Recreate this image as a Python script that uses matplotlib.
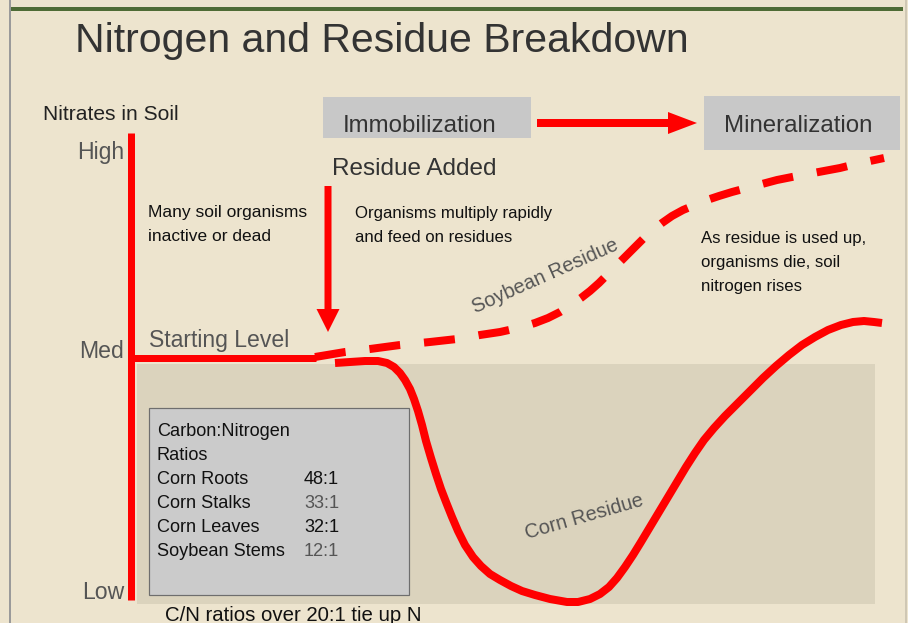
import matplotlib
matplotlib.use("Agg")
import matplotlib.pyplot as plt
from matplotlib.patches import Rectangle
from matplotlib import font_manager

# ---------------- data ----------------
title = "Nitrogen and Residue Breakdown"
axis_title = "Nitrates in Soil"
level_labels = ["High", "Med", "Low"]
level_y = [159, 358, 599]          # baselines of the level labels

ratio_header = ["Carbon:Nitrogen", "Ratios"]
ratio_items = ["Corn Roots", "Corn Stalks", "Corn Leaves", "Soybean Stems"]
ratio_values = ["48:1", "33:1", "32:1", "12:1"]
ratio_value_colors = ["#111111", "#555555", "#111111", "#555555"]
ratio_note = "C/N ratios over 20:1 tie up N"

phase_labels = ["Immobilization", "Mineralization"]
note_left = ["Many soil organisms", "inactive or dead"]
note_mid = ["Organisms multiply rapidly", "and feed on residues"]
note_right = ["As residue is used up,", "organisms die, soil", "nitrogen rises"]

# Soybean residue (dashed) curve
soy_x = [315, 345, 370, 400, 430, 457, 480, 500, 518, 535, 548, 560, 571, 581,
         590, 599, 608, 617, 626, 635, 644, 653, 662, 672, 683, 695, 707, 719,
         732, 747, 762, 777, 792, 808, 824, 840, 856, 870, 884]
soy_y = [357, 352, 349, 345, 342, 339, 335, 332, 328, 323, 318, 312, 305, 298,
         291, 283, 274, 265, 256, 247, 238, 230, 223, 216, 210, 205, 200, 196,
         192, 188, 184, 180, 177, 174, 171, 168, 164, 161, 158]

# Corn residue (solid) curve
corn_x = [335, 350, 365, 378, 387, 394, 400, 405, 410, 414, 418, 422, 426, 431,
          436, 441, 446, 452, 458, 465, 473, 481, 490, 500, 511, 522, 535, 550,
          567, 578, 590, 600, 609, 617, 625, 633, 641, 650, 659, 668, 677, 686,
          695, 704, 714, 725, 737, 750, 763, 776, 789, 802, 815, 828, 841, 853,
          864, 874, 882]
corn_y = [363, 362, 361, 361, 363, 367, 373, 380, 389, 399, 411, 425, 441, 458,
          474, 489, 502, 517, 531, 545, 557, 566, 574, 580, 586, 591, 595, 599,
          602, 602, 599, 594, 587, 578, 567, 555, 542, 527, 512, 497, 482, 467,
          453, 440, 428, 416, 404, 391, 378, 366, 355, 345, 337, 330, 325, 322,
          321, 322, 323]

# ---------------- style ----------------
BG = "#EDE4CE"
SHADE = "#DBD3BD"
RED = "#FF0000"
PX = 72 / 100  # points per pixel

names = {f.name for f in font_manager.fontManager.ttflist}
SANS = "Liberation Sans" if "Liberation Sans" in names else "DejaVu Sans"

fig = plt.figure(figsize=(9.08, 6.23), dpi=100)
fig.patch.set_facecolor(BG)
ax = fig.add_axes([0, 0, 1, 1])
ax.set_xlim(0, 908)
ax.set_ylim(623, 0)
ax.axis("off")
ax.set_facecolor(BG)


def txt(x, y, s, px, color="#111111", family=SANS, **kw):
    kw.setdefault("va", "baseline")
    ax.text(x, y, s, fontsize=px * PX, color=color, family=family, **kw)


# frame lines
ax.plot([10, 10], [0, 623], color="#9A9A9A", lw=2 * PX, zorder=1)
ax.plot([906, 906], [0, 623], color="#CFC7B4", lw=2 * PX, zorder=1)
ax.plot([11, 903], [8.5, 8.5], color="#4E6B35", lw=4 * PX, solid_capstyle="butt", zorder=1)

# title
txt(75, 52, title, 41, color="#333333")

# shaded region
ax.add_patch(Rectangle((137, 364), 738, 240, fc=SHADE, ec="none", zorder=1))

# phase boxes
ax.add_patch(Rectangle((323, 97), 208, 41, fc="#C8C8C8", ec="none", zorder=1))
ax.add_patch(Rectangle((704, 96), 196, 54, fc="#C8C8C8", ec="none", zorder=1))
txt(420, 132, phase_labels[0], 24, color="#333333", ha="center")
txt(798, 132, phase_labels[1], 24, color="#333333", ha="center")
ax.arrow(537, 123, 160, 0, width=8, head_width=22, head_length=29,
         length_includes_head=True, color=RED, lw=0, zorder=3)

# axis & levels
txt(43, 119.5, axis_title, 21, color="#222222")
for lab, y in zip(level_labels, level_y):
    txt(124, y, lab, 23, color="#555555", ha="right")
ax.plot([131, 131], [133, 600], color=RED, lw=7 * PX, solid_capstyle="butt", zorder=4)
ax.plot([131, 316], [358, 358], color=RED, lw=7 * PX, solid_capstyle="butt", zorder=4)
txt(149, 347, "Starting Level", 23, color="#555555")

# Residue added arrow
txt(332, 175, "Residue Added", 24.3, color="#333333")
ax.arrow(328, 186, 0, 146, width=7, head_width=23, head_length=23,
         length_includes_head=True, color=RED, lw=0, zorder=3)

# notes
for i, s in enumerate(note_left):
    txt(148, 217 + 24 * i, s, 17.4)
for i, s in enumerate(note_mid):
    txt(355, 218 + 24 * i, s, 16.7)
for i, s in enumerate(note_right):
    txt(701, 243 + 24 * i, s, 16.7)

# curves
soy_line, = ax.plot(soy_x, soy_y, color=RED, lw=8 * PX, zorder=5,
                    dash_capstyle="butt", solid_joinstyle="round")
soy_line.set_dashes([31 / 8, 24 / 8])
ax.plot(corn_x, corn_y, color=RED, lw=8 * PX, zorder=5,
        solid_capstyle="butt", solid_joinstyle="round")

txt(545, 276, "Soybean Residue", 20, color="#555555", ha="center", va="center",
    rotation=24, rotation_mode="anchor")
txt(584, 517, "Corn Residue", 20, color="#555555", ha="center", va="center",
    rotation=16, rotation_mode="anchor")

# ratio box
ax.add_patch(Rectangle((149, 408), 260, 187, fc="#CBCBCB", ec="#6E6E6E", lw=1.2 * PX, zorder=2))
for i, s in enumerate(ratio_header):
    txt(157, 436 + 24 * i, s, 18.2, zorder=3)
for i, (s, v, c) in enumerate(zip(ratio_items, ratio_values, ratio_value_colors)):
    y = 484 + 24 * i
    txt(157, y, s, 18.2, zorder=3)
    txt(304, y, v, 18.2, color=c, zorder=3)
txt(165, 621, ratio_note, 20.4)

fig.savefig("out.png", dpi=100, facecolor=BG)
